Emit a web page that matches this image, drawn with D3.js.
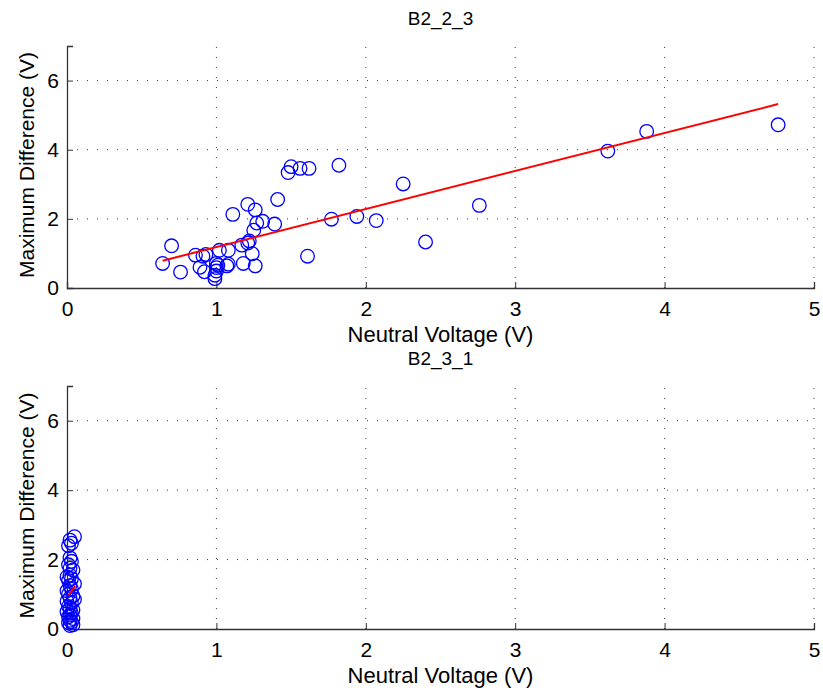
<!DOCTYPE html>
<html>
<head>
<meta charset="utf-8">
<script src="https://cdn.jsdelivr.net/npm/d3@7"></script>
<style>
  body { margin: 0; background: #fff; }
  text { font-family: Arial, "Liberation Sans", sans-serif; fill: #000; }
</style>
</head>
<body>
<script>

// chart data
var titles = ["B2_2_3", "B2_3_1"];
var xTicks = [0, 1, 2, 3, 4, 5];
var yTicks = [0, 2, 4, 6];

// top panel: neutral voltage vs maximum difference
var topV = [0.64, 0.70, 0.76, 0.86, 0.89, 0.91, 0.93, 0.92, 0.99, 0.99, 1.00, 1.00, 1.00, 1.01,
            1.02, 1.08, 1.08, 1.07, 1.11, 1.18, 1.17, 1.21, 1.22, 1.21, 1.24, 1.26, 1.26, 1.25,
            1.27, 1.31, 1.39, 1.41, 1.48, 1.50, 1.56, 1.62, 1.61, 1.77, 1.82, 1.94, 2.07, 2.25,
            2.40, 2.76, 3.62, 3.88, 4.76];
var topD = [0.71, 1.22, 0.46, 0.95, 0.60, 0.92, 0.97, 0.47, 0.27, 0.37, 0.49, 0.59, 0.71, 0.66,
            1.09, 1.09, 0.69, 0.64, 2.13, 0.71, 1.24, 1.30, 1.36, 2.42, 0.99, 0.64, 2.26, 1.67,
            1.88, 1.93, 1.85, 2.56, 3.34, 3.51, 3.46, 3.46, 0.92, 1.99, 3.55, 2.07, 1.95, 3.01,
            1.33, 2.39, 3.96, 4.53, 4.72];
var topFitV = [0.64, 4.76];
var topFitD = [0.79, 5.32];

// bottom panel
var botV = [0.05, 0.02, 0.01, 0.03, 0.02, 0.03, 0.01, 0.02, 0.04, 0.00, 0.02, 0.03, 0.01, 0.05,
            0.02, 0.00, 0.03, 0.01, 0.04, 0.02, 0.05, 0.00, 0.03, 0.01, 0.02, 0.04, 0.00, 0.03,
            0.02, 0.01, 0.04, 0.02, 0.03, 0.01, 0.04, 0.02];
var botD = [2.66, 2.56, 2.40, 2.47, 2.05, 1.95, 1.85, 1.75, 1.70, 1.50, 1.55, 1.45, 1.40, 1.30,
            1.25, 1.10, 1.15, 1.00, 0.95, 0.90, 0.85, 0.80, 0.75, 0.65, 0.60, 0.55, 0.50, 0.45,
            0.40, 0.35, 0.30, 0.25, 0.20, 0.18, 0.12, 0.10];
var botFitV = [0.011, 0.056];
var botFitD = [0.98, 1.24];

var panels = [
  { title: titles[0], v: topV, d: topD, fv: topFitV, fd: topFitD, top: 46, bottom: 288 },
  { title: titles[1], v: botV, d: botD, fv: botFitV, fd: botFitD, top: 386, bottom: 629 }
];

var width = 823, height = 691;
var left = 67, right = 814;

var svg = d3.select("body").append("svg")
            .attr("width", width)
            .attr("height", height);

var x = d3.scaleLinear().domain([0, 5]).range([left, right]);

panels.forEach(function(p) {
  var y = d3.scaleLinear().domain([0, 7]).range([p.bottom, p.top]);
  var g = svg.append("g");

  // dotted grid
  g.selectAll(".gx")
    .data(xTicks.filter(function(t) { return t > 0; }))
    .enter().append("line")
      .attr("x1", function(t) { return x(t); })
      .attr("x2", function(t) { return x(t); })
      .attr("y1", p.bottom)
      .attr("y2", p.top)
      .style("stroke", "#000")
      .style("stroke-width", 0.8)
      .style("stroke-dasharray", "1,9");
  g.selectAll(".gy")
    .data(yTicks.filter(function(t) { return t > 0; }))
    .enter().append("line")
      .attr("x1", left)
      .attr("x2", right)
      .attr("y1", function(t) { return y(t); })
      .attr("y2", function(t) { return y(t); })
      .style("stroke", "#000")
      .style("stroke-width", 0.8)
      .style("stroke-dasharray", "1,9");

  // axes, ticks point inward like matlab
  var xa = g.append("g")
    .attr("transform", "translate(0," + p.bottom + ")")
    .call(d3.axisBottom(x).tickValues(xTicks).tickSize(-6).tickPadding(13).tickFormat(d3.format("d")));
  var ya = g.append("g")
    .attr("transform", "translate(" + left + ",0)")
    .call(d3.axisLeft(y).tickValues(yTicks).tickSize(-6).tickPadding(8).tickFormat(d3.format("d")));

  [xa, ya].forEach(function(a) {
    a.select(".domain").attr("stroke", "#333").attr("stroke-width", 1.3);
    a.selectAll(".tick line").attr("stroke", "#333");
    a.selectAll(".tick text").style("font-size", "21px").attr("fill", "#000");
  });

  // title and labels
  g.append("text")
    .attr("x", (left + right) / 2)
    .attr("y", p.top - 21)
    .attr("text-anchor", "middle")
    .style("font-size", "19px")
    .text(p.title);
  g.append("text")
    .attr("x", (left + right) / 2)
    .attr("y", p.bottom + 54)
    .attr("text-anchor", "middle")
    .style("font-size", "22px")
    .text("Neutral Voltage (V)");
  g.append("text")
    .attr("transform", "translate(34," + ((p.top + p.bottom) / 2 - 2) + ") rotate(-90)")
    .attr("text-anchor", "middle")
    .style("font-size", "21px")
    .text("Maximum Difference (V)");

  // scatter
  g.selectAll("circle")
    .data(p.v.map(function(v, i) { return [v, p.d[i]]; }))
    .enter().append("circle")
      .attr("cx", function(d) { return x(d[0]); })
      .attr("cy", function(d) { return y(d[1]); })
      .attr("r", 6.8)
      .style("fill", "none")
      .style("stroke", "#0000ff")
      .style("stroke-width", 1.3);

  // fit line
  g.append("path")
    .datum(p.fv.map(function(v, i) { return [v, p.fd[i]]; }))
    .attr("d", d3.line().x(function(d) { return x(d[0]); }).y(function(d) { return y(d[1]); }))
    .style("fill", "none")
    .style("stroke", "#ff0000")
    .style("stroke-width", 2);
});

</script>
</body>
</html>
